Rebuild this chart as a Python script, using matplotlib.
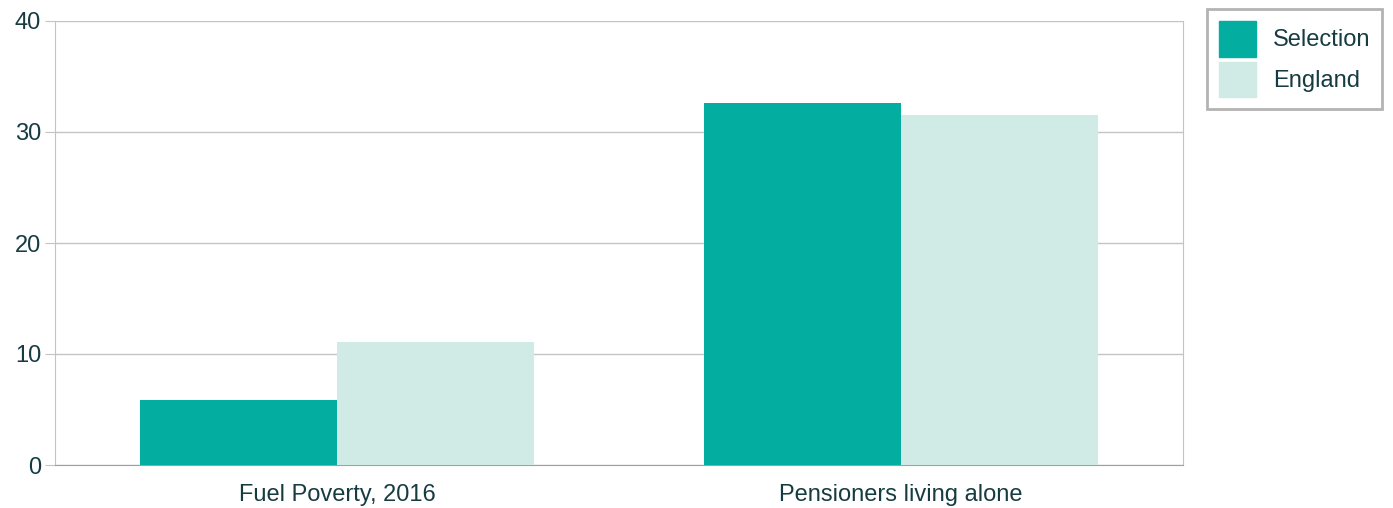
import numpy as np
import matplotlib.pyplot as plt
from matplotlib.patches import Patch

plt.rcParams['font.family'] = ['Liberation Sans', 'DejaVu Sans']

categories = ["Fuel Poverty, 2016", "Pensioners living alone"]
selection = [5.9, 32.6]
england = [11.1, 31.5]
y_ticks = [0, 10, 20, 30, 40]

TEXT = "#163c42"
SEL_COL = "#03ada0"
ENG_COL = "#d0eae6"

fig = plt.figure(figsize=(13.93, 5.08), dpi=100)
ax = fig.add_axes([55 / 1393, 43 / 508, 1128 / 1393, 444 / 508])

x = np.arange(len(categories))
w = 0.35
ax.bar(x - w / 2, selection, w, color=SEL_COL, label="Selection", zorder=3)
ax.bar(x + w / 2, england, w, color=ENG_COL, label="England", zorder=3)

ax.set_xlim(-0.5, len(categories) - 0.5)
ax.set_ylim(0, 40)
ax.set_yticks(y_ticks)
ax.set_xticks(x)
ax.set_xticklabels(categories)
ax.yaxis.grid(True, color="#c4c4c4", linewidth=1, zorder=0)
ax.tick_params(axis="y", length=7, color="#c4c4c4", labelsize=17, labelcolor=TEXT, pad=3)
ax.tick_params(axis="x", length=0, labelsize=17, labelcolor=TEXT, pad=14)

for side in ["left", "right", "top"]:
    ax.spines[side].set_color("#c4c4c4")
ax.spines["top"].set_visible(False)
ax.spines["bottom"].set_color("#a0a0a0")

handles = [Patch(color=SEL_COL, label="Selection"), Patch(color=ENG_COL, label="England")]
leg = fig.legend(handles=handles, loc="upper left", bbox_to_anchor=(1207 / 1393, 1 - 9 / 508),
                 fontsize=17, frameon=True, fancybox=False, handlelength=1.57, handleheight=1.95,
                 borderpad=0.5, labelspacing=0.22, handletextpad=0.72, borderaxespad=0)
leg.get_frame().set_edgecolor("#a0a0a0")
leg.get_frame().set_linewidth(2)
for t in leg.get_texts():
    t.set_color(TEXT)

fig.savefig("out.png", dpi=100)
